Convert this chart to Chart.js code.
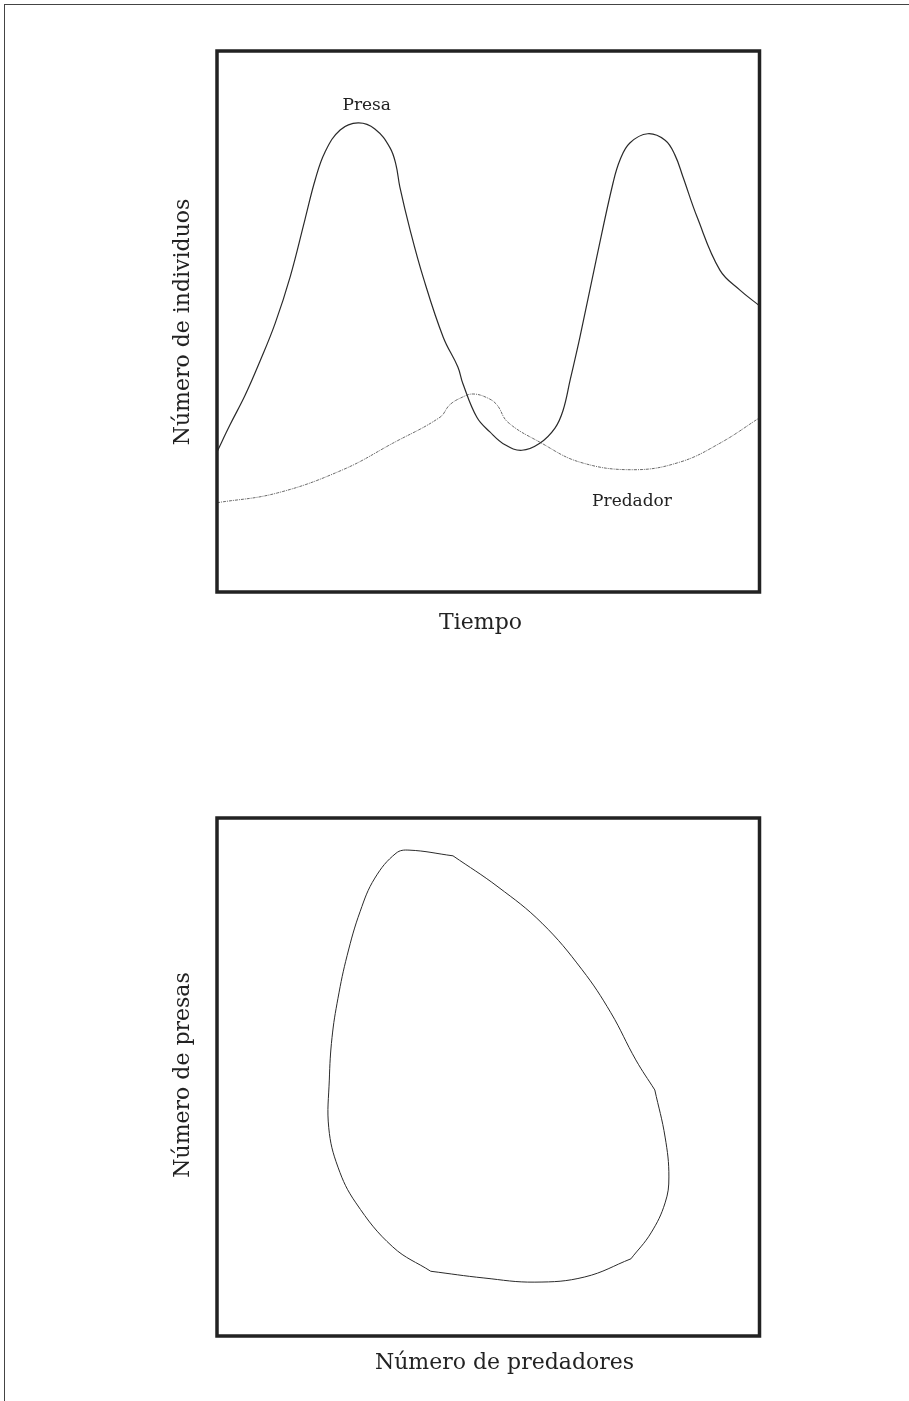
<!DOCTYPE html>
<html><head><meta charset="utf-8">
<script src="https://cdn.jsdelivr.net/npm/chart.js@4/dist/chart.umd.min.js"></script>
<style>
html,body{margin:0;padding:0;background:#fff;width:909px;height:1401px;overflow:hidden;position:relative}
#frame{position:absolute;left:4px;top:4px;width:905px;height:1397px;border-top:1px solid #444;border-left:1px solid #444;box-sizing:border-box}
canvas{position:absolute;left:0}
</style></head><body>
<div id="frame"></div>
<canvas id="c1" width="909" height="660" style="top:0px"></canvas>
<canvas id="c2" width="909" height="701" style="top:700px"></canvas>
<script>
// ---- Data: top chart (time series, arbitrary units 0-100) ----
const presaX = [0, 2.4, 5.2, 7.9, 10.7, 13.5, 16.2, 18.1, 19.9, 22.7, 26.0, 29.1, 31.9, 33.0, 33.7, 35.6, 38.0, 41.7, 44.4, 45.3, 47.9, 50.3, 53.1, 56.2, 59.5, 62.3, 63.8, 65.1, 66.9, 70.0, 73.0, 74.3, 76.1, 79.4, 82.6, 84.4, 85.9, 88.5, 92.7, 96.4, 100];
const presaY = [25.9, 30.9, 36.4, 42.6, 49.6, 58.3, 68.8, 76.2, 81.3, 85.4, 86.7, 85.6, 82.1, 78.9, 74.9, 66.9, 58.2, 47.1, 41.6, 38.6, 32.3, 29.6, 27.2, 26.2, 27.5, 30.3, 33.6, 39.2, 47.1, 61.9, 75.6, 79.9, 83.0, 84.7, 83.5, 80.8, 76.7, 69.3, 59.5, 55.8, 52.9];
const predX = [0, 11.1, 23.2, 32.4, 41.1, 42.9, 45.2, 47.2, 49.8, 51.6, 53.6, 59.5, 66.9, 76.7, 85.3, 92.7, 100];
const predY = [16.5, 18.3, 22.6, 27.5, 32.3, 34.6, 36.0, 36.6, 35.9, 34.6, 31.4, 27.7, 24.0, 22.6, 24.0, 27.5, 32.2];
const seriesNames = ['Presa', 'Predador'];
const labelPos = [[27.6, 90.0], [76.5, 16.8]];
const topTitles = ['Tiempo', 'Número de individuos'];

// ---- Data: bottom chart (phase loop, split at its corners) ----
const loopAX = [43.5, 51.8, 59.9, 67.3, 72.6, 77.2, 80.7];
const loopAY = [92.7, 86.7, 79.7, 70.7, 62.4, 53.3, 47.5];
const loopBX = [80.7, 82.6, 83.3, 82.6, 80.0, 76.3];
const loopBY = [47.5, 38.4, 30.7, 25.7, 19.9, 14.9];
const loopCX = [76.3, 67.8, 58.6, 49.2, 39.4];
const loopCY = [14.9, 11.4, 10.4, 11.2, 12.5];
const loopDX = [39.4, 32.4, 25.6, 22.3, 20.6, 20.7, 21.2, 22.3, 24.0, 26.4, 29.1, 33.0, 35.4, 43.5];
const loopDY = [12.5, 17.2, 25.7, 32.6, 40.2, 49.4, 57.6, 65.2, 73.5, 82.0, 88.4, 93.2, 93.8, 92.7];
const bottomTitles = ['Número de predadores', 'Número de presas'];

const FONT_FAMILY = "'DejaVu Serif', serif";
const INK = '#222';

function pts(xs, ys) { return xs.map((x, i) => ({x: x, y: ys[i]})); }

const boxPlugin = {
  id: 'boxFrame',
  afterDatasetsDraw(chart) {
    const {ctx, chartArea: a} = chart;
    ctx.save();
    ctx.lineWidth = 3.5;
    ctx.strokeStyle = INK;
    ctx.strokeRect(a.left, a.top, a.right - a.left, a.bottom - a.top);
    ctx.restore();
  }
};

function labelPlugin(names, positions, size) {
  return {
    id: 'seriesLabels',
    afterDatasetsDraw(chart) {
      const {ctx, scales} = chart;
      ctx.save();
      ctx.font = size + 'px ' + FONT_FAMILY;
      ctx.fillStyle = INK;
      ctx.textAlign = 'center';
      ctx.textBaseline = 'middle';
      names.forEach((n, i) => {
        ctx.fillText(n, scales.x.getPixelForValue(positions[i][0]), scales.y.getPixelForValue(positions[i][1]));
      });
      ctx.restore();
    }
  };
}

// axis titles: x title centred under the box (with offset), y title rotated left of the box
function axisTitlePlugin(titles, size, xOff, yOff) {
  return {
    id: 'axisTitles',
    afterDraw(chart) {
      const {ctx, chartArea: a} = chart;
      ctx.save();
      ctx.font = size + 'px ' + FONT_FAMILY;
      ctx.fillStyle = INK;
      ctx.textAlign = 'center';
      ctx.textBaseline = 'middle';
      ctx.fillText(titles[0], (a.left + a.right) / 2 + xOff[0], a.bottom + xOff[1]);
      ctx.translate(a.left + yOff[0], (a.top + a.bottom) / 2 + yOff[1]);
      ctx.rotate(-Math.PI / 2);
      ctx.fillText(titles[1], 0, 0);
      ctx.restore();
    }
  };
}

function makeOptions(area, canvasH) {
  return {
    responsive: false,
    animation: false,
    devicePixelRatio: 1,
    layout: {padding: {left: area.left, top: area.top, right: 909 - area.right, bottom: canvasH - area.bottom}},
    plugins: {legend: {display: false}, tooltip: {enabled: false}},
    elements: {point: {radius: 0, hoverRadius: 0}},
    scales: {
      x: {type: 'linear', min: 0, max: 100, display: false},
      y: {type: 'linear', min: 0, max: 100, display: false}
    }
  };
}

new Chart(document.getElementById('c1'), {
  type: 'scatter',
  data: {
    datasets: [
      {label: seriesNames[0], data: pts(presaX, presaY), showLine: true, borderColor: '#2a2a2a', borderWidth: 1.2,
       tension: 0.4, fill: false},
      {label: seriesNames[1], data: pts(predX, predY), showLine: true, borderColor: '#6a6a6a', borderWidth: 1,
       borderDash: [3, 1, 1, 1], tension: 0.4, fill: false}
    ]
  },
  options: makeOptions({left: 217, top: 51, right: 759.5, bottom: 592}, 660),
  plugins: [boxPlugin, labelPlugin(seriesNames, labelPos, 17), axisTitlePlugin(topTitles, 22, [-7.75, 31], [-34, 0.5])]
});

const loopStyle = {showLine: true, borderColor: '#2a2a2a', borderWidth: 1, tension: 0.4, fill: false};
new Chart(document.getElementById('c2'), {
  type: 'scatter',
  data: {
    datasets: [
      Object.assign({data: pts(loopAX, loopAY)}, loopStyle),
      Object.assign({data: pts(loopBX, loopBY)}, loopStyle),
      Object.assign({data: pts(loopCX, loopCY)}, loopStyle),
      Object.assign({data: pts(loopDX, loopDY)}, loopStyle)
    ]
  },
  options: makeOptions({left: 217, top: 118, right: 759.5, bottom: 636}, 701),
  plugins: [boxPlugin, axisTitlePlugin(bottomTitles, 22, [16.25, 27], [-34, -2])]
});
</script>
</body></html>
